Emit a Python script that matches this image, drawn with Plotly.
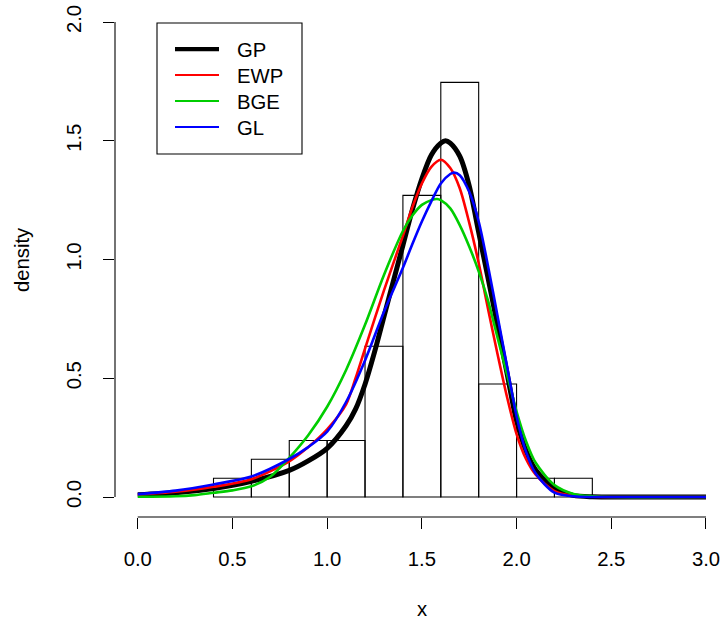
import plotly.graph_objects as go

# Histogram (bin edges and densities)
bin_left = [0.4, 0.6, 0.8, 1.0, 1.2, 1.4, 1.6, 1.8, 2.0, 2.2]
bin_width = 0.2
bin_density = [0.079, 0.159, 0.238, 0.238, 0.635, 1.270, 1.746, 0.476, 0.079, 0.079]

# Fitted density curves
gp_x = [0.0, 0.2, 0.4, 0.6, 0.8, 0.9, 1.0, 1.1, 1.15, 1.2, 1.25, 1.3, 1.35, 1.4, 1.45, 1.5, 1.55, 1.6, 1.625, 1.65, 1.7, 1.75, 1.8, 1.85, 1.9, 1.95, 2.0, 2.05, 2.1, 2.2, 2.3, 2.4, 2.6, 3.0]
gp_y = [0.010, 0.018, 0.036, 0.066, 0.112, 0.152, 0.205, 0.30, 0.37, 0.475, 0.61, 0.76, 0.91, 1.06, 1.21, 1.34, 1.44, 1.49, 1.50, 1.49, 1.435, 1.31, 1.115, 0.92, 0.72, 0.52, 0.32, 0.195, 0.115, 0.035, 0.007, 0.001, 0.0, 0.0]

ewp_x = [0.0, 0.2, 0.4, 0.6, 0.8, 0.9, 1.0, 1.1, 1.15, 1.2, 1.3, 1.4, 1.45, 1.5, 1.55, 1.6, 1.65, 1.7, 1.75, 1.8, 1.85, 1.9, 1.95, 2.0, 2.05, 2.1, 2.2, 2.3, 2.4, 2.6, 3.0]
ewp_y = [0.010, 0.022, 0.043, 0.075, 0.150, 0.210, 0.285, 0.39, 0.50, 0.625, 0.87, 1.10, 1.22, 1.32, 1.39, 1.42, 1.385, 1.30, 1.155, 0.985, 0.79, 0.60, 0.42, 0.265, 0.16, 0.095, 0.025, 0.005, 0.001, 0.0, 0.0]

bge_x = [0.0, 0.2, 0.3, 0.4, 0.5, 0.6, 0.7, 0.8, 0.9, 1.0, 1.1, 1.2, 1.3, 1.4, 1.45, 1.5, 1.55, 1.58, 1.6, 1.65, 1.7, 1.75, 1.8, 1.85, 1.9, 1.95, 2.0, 2.05, 2.1, 2.2, 2.3, 2.4, 2.5, 3.0]
bge_y = [0.001, 0.003, 0.008, 0.018, 0.028, 0.045, 0.085, 0.165, 0.260, 0.380, 0.535, 0.725, 0.935, 1.120, 1.185, 1.230, 1.250, 1.255, 1.250, 1.215, 1.145, 1.055, 0.950, 0.825, 0.670, 0.515, 0.360, 0.235, 0.145, 0.050, 0.013, 0.003, 0.0, 0.0]

gl_x = [0.0, 0.2, 0.4, 0.6, 0.8, 0.9, 1.0, 1.1, 1.2, 1.3, 1.4, 1.45, 1.5, 1.55, 1.6, 1.65, 1.67, 1.7, 1.75, 1.8, 1.85, 1.9, 1.95, 2.0, 2.05, 2.1, 2.2, 2.3, 2.4, 2.6, 3.0]
gl_y = [0.012, 0.027, 0.053, 0.086, 0.160, 0.210, 0.275, 0.40, 0.575, 0.78, 0.965, 1.065, 1.16, 1.245, 1.32, 1.36, 1.366, 1.355, 1.285, 1.16, 0.97, 0.76, 0.55, 0.34, 0.19, 0.10, 0.018, 0.003, 0.0, 0.0, 0.0]

series_names = ["GP", "EWP", "BGE", "GL"]
series_colors = ["#000000", "#FF0000", "#00CD00", "#0000FF"]
series_widths = [5, 2.6, 2.6, 2.6]

x_ticks = [0.0, 0.5, 1.0, 1.5, 2.0, 2.5, 3.0]
y_ticks = [0.0, 0.5, 1.0, 1.5, 2.0]

FONT = "Liberation Sans, Arial, sans-serif"
FS = 20.3

fig = go.Figure()

bin_center = [b + bin_width / 2 for b in bin_left]
fig.add_trace(go.Bar(
    x=bin_center, y=bin_density, width=bin_width,
    marker=dict(color="rgba(0,0,0,0)", line=dict(color="black", width=1.1)),
    showlegend=False, hoverinfo="skip",
))

series_x = [gp_x, ewp_x, bge_x, gl_x]
series_y = [gp_y, ewp_y, bge_y, gl_y]
for name, xs, ys, col, w in zip(series_names, series_x, series_y, series_colors, series_widths):
    fig.add_trace(go.Scatter(
        x=xs, y=ys, mode="lines", name=name, showlegend=False,
        line=dict(color=col, width=w, shape="spline", smoothing=0.8),
    ))

# Legend box drawn in paper coordinates (R-style legend)
plot_l, plot_r, plot_t, plot_b = 115, 720, 3, 517
def px_x(p):
    return (p - plot_l) / (plot_r - plot_l)
def px_y(p):
    return (plot_b - p) / (plot_b - plot_t)

shapes = [
    dict(type="line", xref="x", yref="paper", x0=x_ticks[0], x1=x_ticks[-1], y0=0, y1=0,
         line=dict(color="black", width=1.1)),
    dict(type="line", xref="paper", yref="y", x0=0, x1=0, y0=y_ticks[0], y1=y_ticks[-1],
         line=dict(color="black", width=1.1)),
    dict(type="rect", xref="paper", yref="paper", x0=px_x(157), x1=px_x(302),
         y0=px_y(154), y1=px_y(23), line=dict(color="black", width=1.1), fillcolor="white",
         layer="above"),
]
annotations = [
    dict(text="x", xref="paper", yref="paper", x=px_x(422), y=px_y(609),
         showarrow=False, xanchor="center", yanchor="middle", font=dict(size=FS)),
    dict(text="density", xref="paper", yref="paper", x=px_x(22), y=px_y(260), textangle=-90,
         showarrow=False, xanchor="center", yanchor="middle", font=dict(size=FS)),
]
row0, row_gap = 49, 26
for i, (name, col, w) in enumerate(zip(series_names, series_colors, series_widths)):
    ry = row0 + i * row_gap
    shapes.append(dict(type="line", xref="paper", yref="paper", x0=px_x(175), x1=px_x(219),
                       y0=px_y(ry), y1=px_y(ry), line=dict(color=col, width=w * 0.85),
                       layer="above"))
    annotations.append(dict(text=name, xref="paper", yref="paper", x=px_x(235), y=px_y(ry + 1),
                            showarrow=False, xanchor="left", yanchor="middle",
                            font=dict(size=FS)))

fig.update_layout(
    width=720, height=621,
    margin=dict(l=plot_l, r=0, t=plot_t, b=621 - plot_b),
    paper_bgcolor="white", plot_bgcolor="white",
    font=dict(family=FONT, size=FS, color="black"),
    showlegend=False,
    xaxis=dict(
        range=[-0.12, 3.074], showgrid=False, zeroline=False, showline=False,
        tickvals=x_ticks, ticktext=[f"{v:.1f}" for v in x_ticks],
        ticks="outside", ticklen=11, tickwidth=1.1, tickcolor="black",
        ticklabelstandoff=13, ticklabeloverflow="allow",
    ),
    yaxis=dict(
        range=[-0.0842, 2.080], showgrid=False, zeroline=False, showline=False,
        tickvals=y_ticks, ticktext=[f"{v:.1f}" for v in y_ticks],
        ticks="outside", ticklen=11, tickwidth=1.1, tickcolor="black",
        tickangle=-90, ticklabelstandoff=14, ticklabeloverflow="allow",
    ),
    shapes=shapes,
    annotations=annotations,
)

fig.write_html("out.html", config={"displayModeBar": False},
               post_script="document.body.style.margin='0px';document.body.style.padding='0px';")
